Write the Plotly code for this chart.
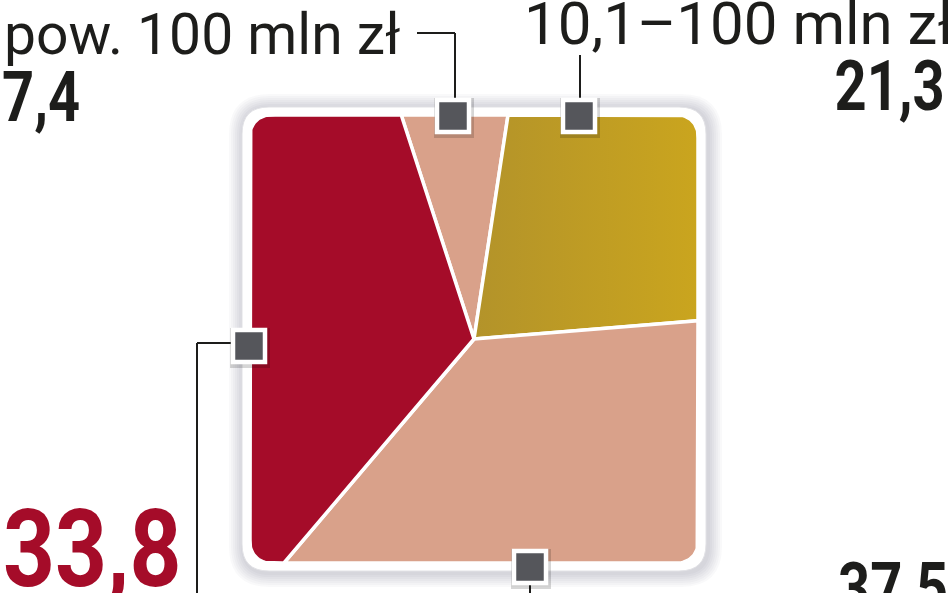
import numpy as np
import plotly.graph_objects as go

# ---- data ----
categories = ["pow. 100 mln zł", "10,1–100 mln zł", "", ""]
values = [7.4, 21.3, 37.5, 33.8]
colors = ["#D9A18A", "#C4A022", "#D9A18A", "#A50C29"]
value_colors = ["#1d1d1b", "#1d1d1b", "#1d1d1b", "#A50C29"]
start_angle = -18.0  # degrees, clockwise from top

# ---- layout constants (pixels) ----
W, H = 948, 593
CX, CY = 474, 339
HALF = 224          # half size of coloured square
RC = 20             # corner radius of coloured square
HALF_OUT = 232      # white frame
RC_OUT = 27

markers = [(453, 116), (579, 116), (530, 567), (249, 346)]
# (x, y cap-centre, xanchor, font size)
name_pos = [(2, 34, "left", 57), (522, 23, "left", 60), None, None]
value_pos = [(0, 97, "left", 70), (947, 86, "right", 70), (836, 588, "left", 70), (1, 549, "left", 108)]
leaders = [
    [(455, 116), (455, 33), (417, 33)],
    [(580, 116), (580, 55)],
    [(530, 567), (530, 600)],
    [(249, 343), (197, 343), (197, 600)],
]


def ray_point(theta_deg, h, rc):
    th = np.radians(theta_deg)
    dx, dy = np.sin(th), -np.cos(th)
    t = h / max(abs(dx), abs(dy))
    px, py = t * dx, t * dy
    if abs(px) > h - rc and abs(py) > h - rc:
        cx = np.sign(px) * (h - rc)
        cy = np.sign(py) * (h - rc)
        b = dx * cx + dy * cy
        t = b + np.sqrt(b * b - (cx * cx + cy * cy) + rc * rc)
    return t * dx, t * dy


def rounded_rect_path(x0, y0, x1, y1, r):
    return (f"M {x0+r},{y0} L {x1-r},{y0} Q {x1},{y0} {x1},{y0+r} "
            f"L {x1},{y1-r} Q {x1},{y1} {x1-r},{y1} "
            f"L {x0+r},{y1} Q {x0},{y1} {x0},{y1-r} "
            f"L {x0},{y0+r} Q {x0},{y0} {x0+r},{y0} Z")


fig = go.Figure()

total = sum(values)
a = start_angle
for i, v in enumerate(values):
    b = a + 360.0 * v / total
    n = max(int((b - a) / 0.25), 2)
    angs = np.linspace(a, b, n)
    xs, ys = [CX], [CY]
    for t in angs:
        px, py = ray_point(t, HALF, RC)
        xs.append(CX + px)
        ys.append(CY + py)
    xs.append(CX)
    ys.append(CY)
    kw = dict(fillcolor=colors[i])
    if i == 1:
        kw = dict(fillgradient=dict(type="horizontal",
                                    colorscale=[[0, "#B3932A"], [1, "#CAA51E"]]))
    fig.add_trace(go.Scatter(x=xs, y=ys, fill="toself", mode="lines",
                             line=dict(color="white", width=3.5),
                             hoverinfo="text",
                             text=f"{categories[i]} {v}".strip(), **kw))
    a = b

mx = [m[0] for m in markers]
my = [m[1] for m in markers]
fig.add_trace(go.Scatter(x=[x + 1 for x in mx], y=[y + 2 for y in my], mode="markers",
                         marker=dict(symbol="square", size=40, color="rgba(0,0,0,0.16)",
                                     line=dict(width=0)), hoverinfo="skip"))
fig.add_trace(go.Scatter(x=mx, y=my, mode="markers",
                         marker=dict(symbol="square", size=32, color="#55565B",
                                     line=dict(color="white", width=4.5)), hoverinfo="skip"))

shapes = []
for k in range(7, 0, -1):
    e = 2 * k
    shapes.append(dict(type="path", layer="below",
                       path=rounded_rect_path(CX - HALF_OUT - e + 1, CY - HALF_OUT - e + 1,
                                              CX + HALF_OUT + e + 2, CY + HALF_OUT + e + 2,
                                              RC_OUT + e),
                       fillcolor="rgba(60,60,80,0.03)", line=dict(width=0)))
shapes.append(dict(type="path", layer="below",
                   path=rounded_rect_path(CX - HALF_OUT, CY - HALF_OUT,
                                          CX + HALF_OUT, CY + HALF_OUT, RC_OUT),
                   fillcolor="white", line=dict(color="#e2e2e6", width=1)))
for pts in leaders:
    for (x0, y0), (x1, y1) in zip(pts[:-1], pts[1:]):
        shapes.append(dict(type="line", layer="below", x0=x0, y0=y0, x1=x1, y1=y1,
                           line=dict(color="#1d1d1b", width=2)))

annotations = []
for i, v in enumerate(values):
    if name_pos[i] is not None:
        x, y, xa, sz = name_pos[i]
        annotations.append(dict(x=x, y=y, xanchor=xa, yanchor="middle", showarrow=False,
                                text=categories[i],
                                font=dict(family="Roboto", size=sz, color="#1d1d1b")))
    x, y, xa, sz = value_pos[i]
    annotations.append(dict(x=x, y=y, xanchor=xa, yanchor="middle", showarrow=False,
                            text=f"{v:.1f}".replace(".", ","),
                            font=dict(family="Roboto", size=sz, weight=700,
                                      color=value_colors[i])))

fig.update_layout(
    width=W, height=H, margin=dict(l=0, r=0, t=0, b=0),
    paper_bgcolor="white", plot_bgcolor="white", showlegend=False,
    xaxis=dict(range=[0, W], visible=False, fixedrange=True),
    yaxis=dict(range=[H, 0], visible=False, fixedrange=True),
    shapes=shapes, annotations=annotations,
)

post = """
document.body.style.margin = '0';
document.querySelectorAll('.annotation-text').forEach(function (t) {
  var s = t.textContent;
  if (/^[0-9]+,[0-9]$/.test(s)) {
    var right = (s === '21,3');
    t.style.transformBox = 'fill-box';
    t.style.transformOrigin = right ? 'right center' : 'left center';
    t.style.transform = (s === '33,8') ? 'scaleX(0.84)' : 'scaleX(0.8)';
  }
});
"""

fig.write_html("out.html", post_script=post, config={"displayModeBar": False})
